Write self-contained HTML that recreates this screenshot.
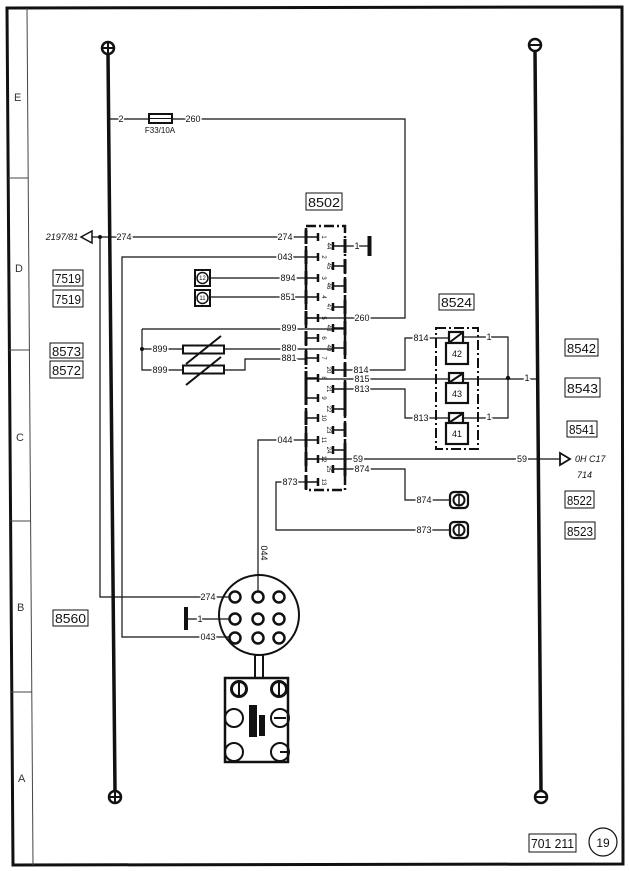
<!DOCTYPE html>
<html><head><meta charset="utf-8"><style>
html,body{margin:0;padding:0;background:#fff;}
svg{display:block;}
text{font-family:"Liberation Sans",sans-serif;fill:#111;}
.l{font-size:9px;stroke:#fff;stroke-width:3px;paint-order:stroke;}
.b{font-size:13px;}
.z{font-size:11px;fill:#333;}
.p{font-size:6px;}
</style></head><body>
<svg width="629" height="871" viewBox="0 0 629 871" xmlns="http://www.w3.org/2000/svg">
<g fill="none" stroke="#111" stroke-linecap="butt">
<!-- frame -->
<path d="M7 8 L622 7 L623 864 L13 865 Z" stroke-width="3"/>
<line x1="27" y1="8" x2="33" y2="865" stroke-width="1" stroke="#444"/>
<g stroke-width="1" stroke="#444">
<line x1="8" y1="178" x2="28" y2="178"/>
<line x1="9" y1="350" x2="30" y2="350"/>
<line x1="10" y1="521" x2="31" y2="521"/>
<line x1="11" y1="692" x2="32" y2="692"/>
</g>

<!-- positive bus -->
<line x1="108" y1="54" x2="115" y2="791" stroke-width="3.5"/>
<circle cx="108" cy="48" r="6" stroke-width="2.5"/>
<line x1="102" y1="48" x2="114" y2="48" stroke-width="2"/>
<line x1="108" y1="42" x2="108" y2="54" stroke-width="2"/>
<circle cx="115" cy="797" r="6" stroke-width="2.5"/>
<line x1="109" y1="797" x2="121" y2="797" stroke-width="2"/>
<line x1="115" y1="791" x2="115" y2="803" stroke-width="2"/>

<!-- negative bus -->
<line x1="535" y1="51" x2="541" y2="791" stroke-width="3.5"/>
<circle cx="535" cy="45" r="6" stroke-width="2.5"/>
<line x1="529" y1="45" x2="541" y2="45" stroke-width="2"/>
<circle cx="541" cy="797" r="6" stroke-width="2.5"/>
<line x1="535" y1="797" x2="547" y2="797" stroke-width="2"/>

<!-- fuse wire -->
<g stroke-width="1.2">
<path d="M110 119 H149"/>
<path d="M172 119 H405 V318 H306"/>
</g>
<rect x="149" y="114" width="23" height="9" stroke-width="2"/>
<line x1="150" y1="118.5" x2="171" y2="118.5" stroke-width="1"/>

<!-- 274 -->
<g stroke-width="1.2">
<path d="M91 237 H306"/>
<path d="M100 237 V597 H229"/>
<path d="M306 257 H122 V637 H229"/>
<path d="M210 278 H306"/>
<path d="M210 297 H306"/>
<path d="M142 329 H345"/>
<path d="M142 329 V370 H183"/>
<path d="M142 349 H183"/>
<path d="M224 349 H333"/>
<path d="M224 370 H245 V359 H306"/>
<path d="M345 246 H368"/>
<path d="M345 370 H405 V338 H449"/>
<path d="M306 379 H537"/>
<path d="M345 389 H405 V418 H449"/>
<path d="M463 337 H508 V418 H463"/>
<path d="M306 459 H560"/>
<path d="M345 469 H405 V500 H450"/>
<path d="M306 482 H276 V530 H450"/>
<path d="M306 440 H258 V591"/>
<path d="M186 619 H229"/>
</g>
<polygon points="81,237 92,231 92,243" stroke-width="1.5" fill="#fff"/>
<circle cx="100" cy="237" r="2" fill="#111" stroke="none"/>
<circle cx="142" cy="349" r="2" fill="#111" stroke="none"/>
<circle cx="508" cy="378" r="2.2" fill="#111" stroke="none"/>
<polygon points="570,459 560,453 560,465" stroke-width="1.8" fill="#fff"/>

<!-- ground near connector -->
<line x1="369.5" y1="236" x2="369.5" y2="256" stroke-width="4"/>

<!-- components 12/11 -->
<rect x="195" y="270" width="15" height="16" stroke-width="2"/>
<circle cx="202.5" cy="278" r="5.5" stroke-width="1.5"/>
<rect x="195" y="290" width="15" height="16" stroke-width="2"/>
<circle cx="202.5" cy="298" r="5.5" stroke-width="1.5"/>

<!-- resistors -->
<rect x="183" y="345.5" width="41" height="8" stroke-width="2" fill="#fff"/>
<rect x="183" y="365.5" width="41" height="8" stroke-width="2" fill="#fff"/>
<line x1="186" y1="364" x2="221" y2="336" stroke-width="2"/>
<line x1="186" y1="385" x2="221" y2="357" stroke-width="2"/>

<!-- connector 8502 outline -->
<g stroke-width="2.5" stroke-dasharray="10 3 2 3">
<path d="M306 226 H345 V490 H306 Z"/>
</g>
<!-- left pins -->
<g id="lp">
<g stroke-width="3">
<line x1="306" y1="230" x2="306" y2="244"/><line x1="306" y1="250" x2="306" y2="264"/><line x1="306" y1="271" x2="306" y2="285"/><line x1="306" y1="290" x2="306" y2="304"/><line x1="306" y1="311" x2="306" y2="325"/><line x1="306" y1="331" x2="306" y2="345"/><line x1="306" y1="351" x2="306" y2="365"/><line x1="306" y1="371" x2="306" y2="405"/><line x1="306" y1="411" x2="306" y2="425"/><line x1="306" y1="433" x2="306" y2="447"/><line x1="306" y1="452" x2="306" y2="466"/><line x1="306" y1="475" x2="306" y2="489"/>
</g>
<g stroke-width="1.5">
<line x1="306" y1="237" x2="318" y2="237"/><line x1="306" y1="257" x2="318" y2="257"/><line x1="306" y1="278" x2="318" y2="278"/><line x1="306" y1="297" x2="318" y2="297"/><line x1="306" y1="318" x2="318" y2="318"/><line x1="306" y1="338" x2="318" y2="338"/><line x1="306" y1="358" x2="318" y2="358"/><line x1="306" y1="378" x2="318" y2="378"/><line x1="306" y1="398" x2="318" y2="398"/><line x1="306" y1="418" x2="318" y2="418"/><line x1="306" y1="440" x2="318" y2="440"/><line x1="306" y1="459" x2="318" y2="459"/><line x1="306" y1="482" x2="318" y2="482"/>
</g>
<g stroke-width="2.5">
<line x1="318" y1="233" x2="318" y2="241"/><line x1="318" y1="253" x2="318" y2="261"/><line x1="318" y1="274" x2="318" y2="282"/><line x1="318" y1="293" x2="318" y2="301"/><line x1="318" y1="314" x2="318" y2="322"/><line x1="318" y1="334" x2="318" y2="342"/><line x1="318" y1="354" x2="318" y2="362"/><line x1="318" y1="374" x2="318" y2="382"/><line x1="318" y1="394" x2="318" y2="402"/><line x1="318" y1="414" x2="318" y2="422"/><line x1="318" y1="436" x2="318" y2="444"/><line x1="318" y1="455" x2="318" y2="463"/><line x1="318" y1="478" x2="318" y2="486"/>
</g>
</g>
<!-- right pins -->
<g stroke-width="3">
<line x1="345" y1="239" x2="345" y2="253"/><line x1="345" y1="259" x2="345" y2="273"/><line x1="345" y1="279" x2="345" y2="293"/><line x1="345" y1="300" x2="345" y2="314"/><line x1="345" y1="321" x2="345" y2="335"/><line x1="345" y1="341" x2="345" y2="355"/><line x1="345" y1="363" x2="345" y2="377"/><line x1="345" y1="382" x2="345" y2="416"/><line x1="345" y1="423" x2="345" y2="437"/><line x1="345" y1="443" x2="345" y2="476"/>
</g>
<g stroke-width="1.5">
<line x1="333" y1="246" x2="345" y2="246"/><line x1="333" y1="266" x2="345" y2="266"/><line x1="333" y1="286" x2="345" y2="286"/><line x1="333" y1="307" x2="345" y2="307"/><line x1="333" y1="328" x2="345" y2="328"/><line x1="333" y1="348" x2="345" y2="348"/><line x1="333" y1="370" x2="345" y2="370"/><line x1="333" y1="389" x2="345" y2="389"/><line x1="333" y1="409" x2="345" y2="409"/><line x1="333" y1="430" x2="345" y2="430"/><line x1="333" y1="450" x2="345" y2="450"/><line x1="333" y1="469" x2="345" y2="469"/>
</g>
<g stroke-width="2.5">
<line x1="333" y1="242" x2="333" y2="250"/><line x1="333" y1="262" x2="333" y2="270"/><line x1="333" y1="282" x2="333" y2="290"/><line x1="333" y1="303" x2="333" y2="311"/><line x1="333" y1="324" x2="333" y2="332"/><line x1="333" y1="344" x2="333" y2="352"/><line x1="333" y1="366" x2="333" y2="374"/><line x1="333" y1="385" x2="333" y2="393"/><line x1="333" y1="405" x2="333" y2="413"/><line x1="333" y1="426" x2="333" y2="434"/><line x1="333" y1="446" x2="333" y2="454"/><line x1="333" y1="465" x2="333" y2="473"/>
</g>

<!-- relay block 8524 -->
<path d="M436 328 H478 V449 H436 Z" stroke-width="2" stroke-dasharray="10 3 2 3"/>
<g stroke-width="2.2" fill="#fff">
<rect x="449" y="332" width="14" height="11"/><rect x="446" y="343" width="22" height="21"/>
<rect x="449" y="373" width="14" height="10"/><rect x="446" y="383" width="22" height="20"/>
<rect x="449" y="413" width="14" height="10"/><rect x="446" y="423" width="22" height="21"/>
</g>
<g stroke-width="2">
<line x1="450" y1="342" x2="462" y2="333"/>
<line x1="450" y1="382" x2="462" y2="374"/>
<line x1="450" y1="422" x2="462" y2="414"/>
</g>

<!-- plugs -->
<rect x="450" y="492" width="18" height="16" rx="4" stroke-width="2.2"/>
<circle cx="459" cy="500" r="5.5" stroke-width="2"/>
<line x1="459" y1="495" x2="459" y2="505" stroke-width="1.5"/>
<rect x="450" y="522" width="18" height="16" rx="4" stroke-width="2.2"/>
<circle cx="459" cy="530" r="5.5" stroke-width="2"/>
<line x1="459" y1="525" x2="459" y2="535" stroke-width="1.5"/>

<!-- round connector -->
<circle cx="259" cy="615" r="40" stroke-width="2"/>
<g stroke-width="2.5" fill="#fff">
<circle cx="235" cy="597" r="5.5"/><circle cx="258" cy="597" r="5.5"/><circle cx="279" cy="597" r="5.5"/>
<circle cx="235" cy="619" r="5.5"/><circle cx="258" cy="619" r="5.5"/><circle cx="279" cy="619" r="5.5"/>
<circle cx="235" cy="638" r="5.5"/><circle cx="258" cy="638" r="5.5"/><circle cx="279" cy="638" r="5.5"/>
</g>
<line x1="186" y1="607" x2="186" y2="630" stroke-width="4"/>
<line x1="255" y1="655" x2="255" y2="678" stroke-width="2"/>
<line x1="263" y1="655" x2="263" y2="678" stroke-width="2"/>
<rect x="225" y="678" width="63" height="84" stroke-width="2.5"/>
<circle cx="239" cy="689" r="7.5" stroke-width="3"/>
<line x1="239" y1="683" x2="239" y2="695" stroke-width="2"/>
<circle cx="279" cy="689" r="7.5" stroke-width="3"/>
<line x1="279" y1="683" x2="279" y2="695" stroke-width="2"/>
<circle cx="234" cy="718" r="9" stroke-width="2"/>
<circle cx="280" cy="718" r="9" stroke-width="2"/>
<line x1="274" y1="718" x2="286" y2="718" stroke-width="2"/>
<circle cx="234" cy="752" r="9" stroke-width="2"/>
<circle cx="280" cy="752" r="9" stroke-width="2"/>
<line x1="280" y1="752" x2="288" y2="752" stroke-width="2"/>
<rect x="249" y="705" width="8" height="32" fill="#111" stroke="none"/>
<rect x="259" y="715" width="6" height="21" fill="#111" stroke="none"/>

<!-- label boxes -->
<g stroke-width="1">
<rect x="306" y="193" width="36" height="17"/>
<rect x="439" y="294" width="35" height="16"/>
<rect x="53" y="270" width="30" height="16"/>
<rect x="53" y="290" width="30" height="17"/>
<rect x="50" y="343" width="33" height="15"/>
<rect x="50" y="361" width="33" height="17"/>
<rect x="53" y="610" width="35" height="16"/>
<rect x="565" y="339" width="33" height="17"/>
<rect x="565" y="378" width="35" height="19"/>
<rect x="567" y="421" width="30" height="16"/>
<rect x="565" y="491" width="29" height="17"/>
<rect x="565" y="522" width="30" height="17"/>
<rect x="529" y="834" width="47" height="18"/>
</g>
<circle cx="603" cy="842" r="14" stroke-width="1.2"/>
</g>

<!-- zone letters -->
<text class="z" x="14" y="101">E</text>
<text class="z" x="15" y="272">D</text>
<text class="z" x="16" y="441">C</text>
<text class="z" x="17" y="611">B</text>
<text class="z" x="18" y="782">A</text>

<!-- boxed labels -->
<g class="b">
<text x="308" y="207" textLength="32" lengthAdjust="spacingAndGlyphs">8502</text>
<text x="441" y="307" textLength="31" lengthAdjust="spacingAndGlyphs">8524</text>
<text x="55" y="283" textLength="26" lengthAdjust="spacingAndGlyphs">7519</text>
<text x="55" y="304" textLength="26" lengthAdjust="spacingAndGlyphs">7519</text>
<text x="52" y="356" textLength="29" lengthAdjust="spacingAndGlyphs">8573</text>
<text x="52" y="375" textLength="29" lengthAdjust="spacingAndGlyphs">8572</text>
<text x="55" y="623" textLength="31" lengthAdjust="spacingAndGlyphs">8560</text>
<text x="567" y="353" textLength="29" lengthAdjust="spacingAndGlyphs">8542</text>
<text x="567" y="393" textLength="31" lengthAdjust="spacingAndGlyphs">8543</text>
<text x="569" y="434" textLength="26" lengthAdjust="spacingAndGlyphs">8541</text>
<text x="567" y="505" textLength="25" lengthAdjust="spacingAndGlyphs">8522</text>
<text x="567" y="536" textLength="26" lengthAdjust="spacingAndGlyphs">8523</text>
<text x="531" y="848" textLength="43" lengthAdjust="spacingAndGlyphs">701 211</text>
<text x="603" y="847" text-anchor="middle" font-size="12">19</text>
</g>

<!-- wire labels -->
<g class="l" text-anchor="middle">
<text x="121" y="122">2</text>
<text x="193" y="122">260</text>
<text x="124" y="240">274</text>
<text x="285" y="240">274</text>
<text x="285" y="260">043</text>
<text x="288" y="281">894</text>
<text x="288" y="300">851</text>
<text x="357" y="249">1</text>
<text x="362" y="321">260</text>
<text x="289" y="331">899</text>
<text x="289" y="351">880</text>
<text x="289" y="361">881</text>
<text x="160" y="352">899</text>
<text x="160" y="373">899</text>
<text x="361" y="373">814</text>
<text x="362" y="382">815</text>
<text x="362" y="392">813</text>
<text x="285" y="443">044</text>
<text x="358" y="462">59</text>
<text x="362" y="472">874</text>
<text x="290" y="485">873</text>
<text x="421" y="341">814</text>
<text x="421" y="421">813</text>
<text x="489" y="340">1</text>
<text x="527" y="381">1</text>
<text x="489" y="420">1</text>
<text x="522" y="462">59</text>
<text x="424" y="503">874</text>
<text x="424" y="533">873</text>
<text x="208" y="600">274</text>
<text x="200" y="622">1</text>
<text x="208" y="640">043</text>
<text transform="translate(261,553) rotate(90)">044</text>
</g>
<text x="160" y="133" font-size="8" text-anchor="middle">F33/10A</text>
<text x="62" y="240" font-size="9" font-style="italic" text-anchor="middle">2197/81</text>
<text x="575" y="462" font-size="9" font-style="italic">0H C17</text>
<text x="577" y="478" font-size="9" font-style="italic">714</text>
<text x="202.5" y="280" font-size="6" text-anchor="middle">12</text>
<text x="202.5" y="300" font-size="6" text-anchor="middle">11</text>
<g font-size="9" text-anchor="middle">
<text x="457" y="357">42</text>
<text x="457" y="397">43</text>
<text x="457" y="437">41</text>
</g>
<!-- pin numbers -->
<g class="p" text-anchor="middle">
<text transform="translate(322,237) rotate(90)">1</text>
<text transform="translate(322,257) rotate(90)">2</text>
<text transform="translate(322,278) rotate(90)">3</text>
<text transform="translate(322,297) rotate(90)">4</text>
<text transform="translate(322,318) rotate(90)">5</text>
<text transform="translate(322,338) rotate(90)">6</text>
<text transform="translate(322,358) rotate(90)">7</text>
<text transform="translate(322,378) rotate(90)">8</text>
<text transform="translate(322,398) rotate(90)">9</text>
<text transform="translate(322,418) rotate(90)">10</text>
<text transform="translate(322,440) rotate(90)">11</text>
<text transform="translate(322,459) rotate(90)">12</text>
<text transform="translate(322,482) rotate(90)">13</text>
<text transform="translate(327,246) rotate(90)">44</text>
<text transform="translate(327,266) rotate(90)">45</text>
<text transform="translate(327,286) rotate(90)">46</text>
<text transform="translate(327,307) rotate(90)">47</text>
<text transform="translate(327,328) rotate(90)">48</text>
<text transform="translate(327,348) rotate(90)">49</text>
<text transform="translate(327,370) rotate(90)">20</text>
<text transform="translate(327,389) rotate(90)">21</text>
<text transform="translate(327,409) rotate(90)">22</text>
<text transform="translate(327,430) rotate(90)">23</text>
<text transform="translate(327,450) rotate(90)">24</text>
<text transform="translate(327,469) rotate(90)">25</text>
</g>
</svg>
</body></html>
